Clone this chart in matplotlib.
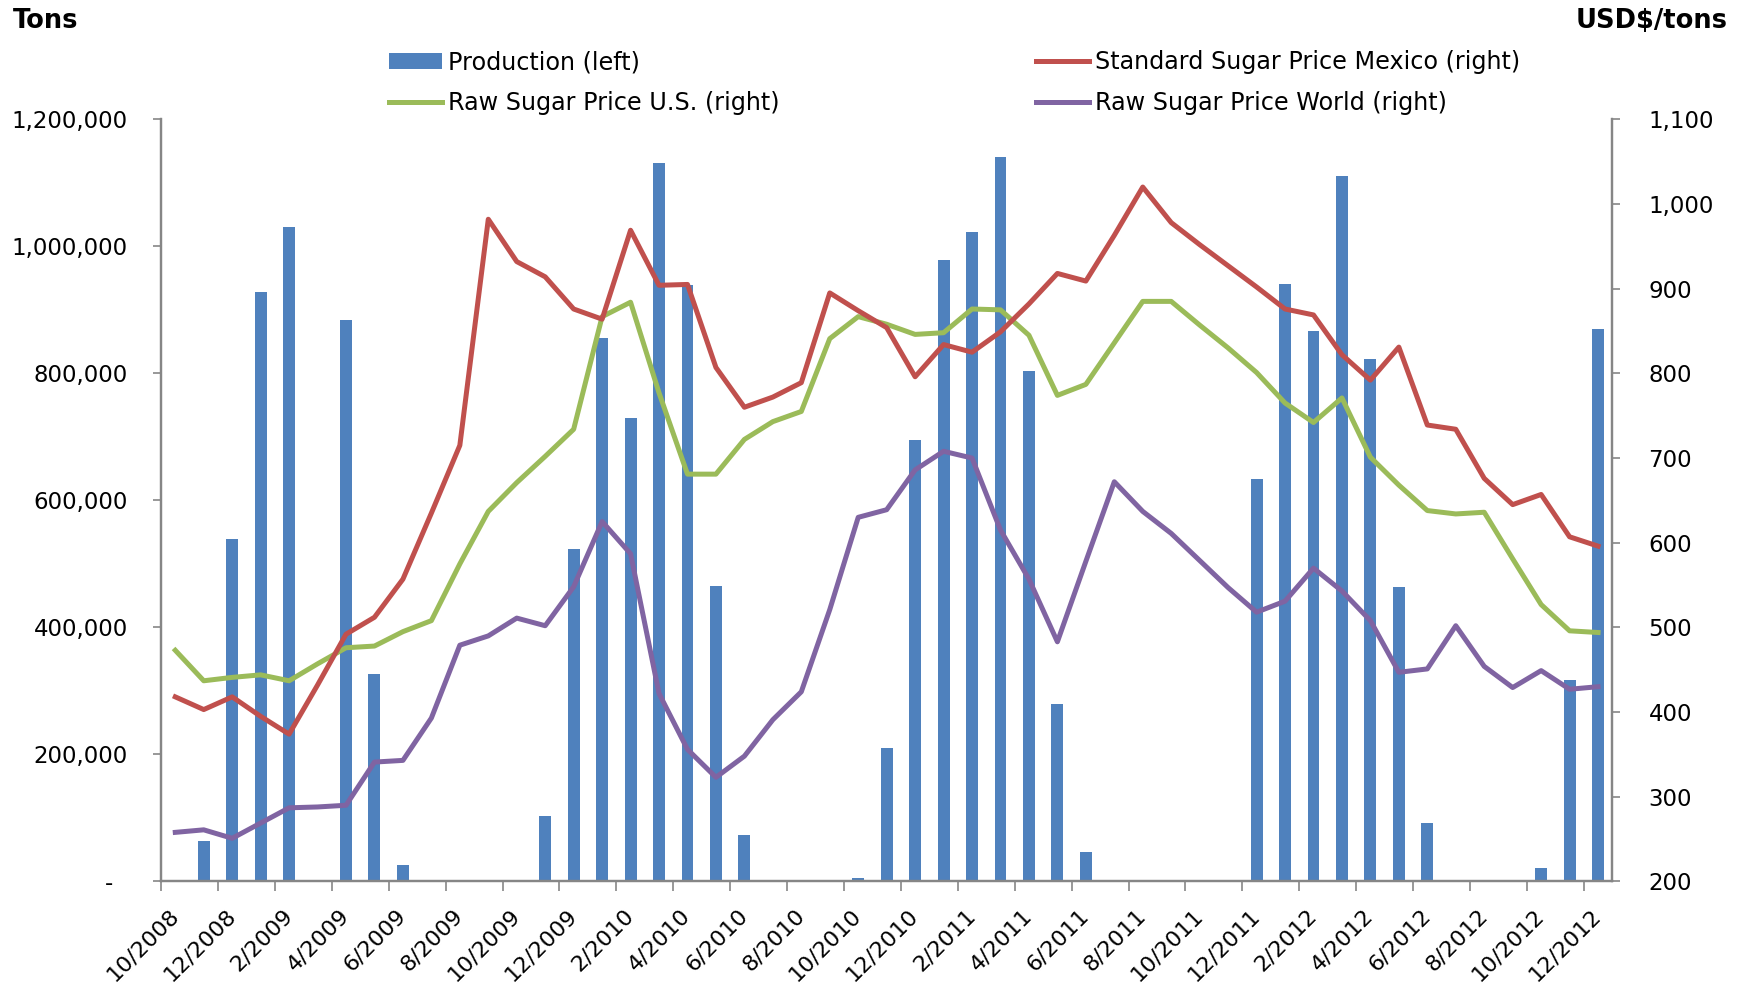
import numpy as np
import matplotlib
matplotlib.use("Agg")
from matplotlib import pyplot as plt
from matplotlib.ticker import FuncFormatter, FixedLocator

# months 10/2008 .. 12/2012
months = []
m, y = 10, 2008
for k in range(51):
    months.append(f"{m}/{y}")
    m += 1
    if m > 12:
        m, y = 1, y + 1

# production (tons), left axis
production = [0, 63000, 540000, 928000, 1030000, 0, 884000, 326000, 26000, 0,
              0, 0, 0, 103000, 524000, 856000, 730000, 1131000, 939000, 466000,
              73000, 0, 0, 0, 6000, 210000, 695000, 978000, 1023000, 1141000,
              804000, 280000, 46000, 0, 0, 0, 0, 0, 634000, 940000,
              866000, 1110000, 823000, 463000, 92000, 0, 0, 0, 21000, 318000,
              870000]

# prices (USD$/tons), right axis
mexico = [418, 403, 418, 395, 374, 432, 492, 512, 557, 635, 715, 982, 932, 914,
          876, 864, 969, 904, 905, 807, 760, 772, 789, 895, 874, 854, 796, 834,
          825, 849, 882, 918, 909, 963, 1020, 978, 952, 927, 902, 876, 869, 822,
          792, 831, 739, 734, 676, 645, 657, 607, 596]
raw_us = [473, 437, 441, 444, 437, 457, 476, 478, 495, 508, 575, 637, 671, 702,
          734, 867, 884, 777, 681, 681, 722, 743, 755, 841, 867, 858, 846, 848,
          876, 875, 845, 774, 787, 836, 885, 885, 857, 830, 801, 765, 742, 771,
          701, 668, 638, 634, 636, 581, 527, 496, 494]
raw_world = [258, 261, 251, 269, 287, 288, 290, 341, 343, 393, 479, 490, 511, 502,
             548, 625, 587, 422, 356, 323, 348, 391, 424, 521, 630, 639, 686, 708,
             700, 615, 557, 483, 578, 672, 637, 611, 579, 547, 518, 531, 570, 543,
             508, 447, 451, 502, 454, 429, 449, 427, 430]

blue = "#4F81BD"
red = "#C0504D"
green = "#9BBB59"
purple = "#8064A2"
axcol = "#868686"

plt.rcParams['font.family'] = 'DejaVu Sans'

fig = plt.figure(figsize=(17.43, 9.86), dpi=100)
ax = fig.add_axes([0.0924, 0.106, 0.8326, 0.773])
ax2 = ax.twinx()

x = np.arange(len(months))
b = ax.bar(x, production, width=0.42, color=blue, label="Production (left)")

l_us, = ax2.plot(x, raw_us, color=green, lw=3.6, label="Raw Sugar Price U.S. (right)")
l_mx, = ax2.plot(x, mexico, color=red, lw=3.6, label="Standard Sugar Price Mexico (right)")
l_w, = ax2.plot(x, raw_world, color=purple, lw=3.6, label="Raw Sugar Price World (right)")

ax.set_xlim(-0.5, len(months) - 0.5)
ax.set_ylim(0, 1200000)
ax2.set_ylim(200, 1100)
ax.set_yticks(np.arange(0, 1200001, 200000))
ax2.set_yticks(np.arange(200, 1101, 100))
ax.yaxis.set_major_formatter(FuncFormatter(lambda v, p: "-  " if v == 0 else f"{v:,.0f}"))
ax2.yaxis.set_major_formatter(FuncFormatter(lambda v, p: f"{v:,.0f}"))

# tick marks on category boundaries, labels every 2 months
ax.xaxis.set_major_locator(FixedLocator(np.arange(-0.5, len(months) - 1, 2)))
ax.xaxis.set_minor_locator(FixedLocator(x[::2]))
ax.set_xticklabels([], minor=False)
ax.set_xticklabels(months[::2], minor=True, rotation=45, ha="right",
                   va="center", rotation_mode="anchor", fontsize=16)
ax.tick_params(axis="x", which="major", length=7, color=axcol, width=1.2)
ax.tick_params(axis="x", which="minor", length=0, pad=22)
ax.tick_params(axis="y", length=6, color=axcol, width=1.2, pad=18, labelsize=16.5)
ax2.tick_params(axis="y", length=6, color=axcol, width=1.2, pad=20, labelsize=16.5)

for a in (ax, ax2):
    a.spines["top"].set_visible(False)
    for s in ("left", "right", "bottom"):
        a.spines[s].set_color(axcol)
        a.spines[s].set_linewidth(1.6)

fig.text(0.0075, 0.979, "Tons", fontsize=18.5, fontweight="bold", va="center")
fig.text(0.991, 0.979, "USD$/tons", fontsize=18.5, fontweight="bold", va="center", ha="right")

leg_kw = dict(frameon=False, fontsize=17.2, loc="upper left", borderpad=0,
              borderaxespad=0, handlelength=2.2, handletextpad=0.25, labelspacing=0.72)
fig.legend(handles=[b, l_us], bbox_to_anchor=(0.2234, 0.949), **leg_kw)
fig.legend(handles=[l_mx, l_w], bbox_to_anchor=(0.5944, 0.949), **leg_kw)

fig.savefig("out.png", dpi=100)
